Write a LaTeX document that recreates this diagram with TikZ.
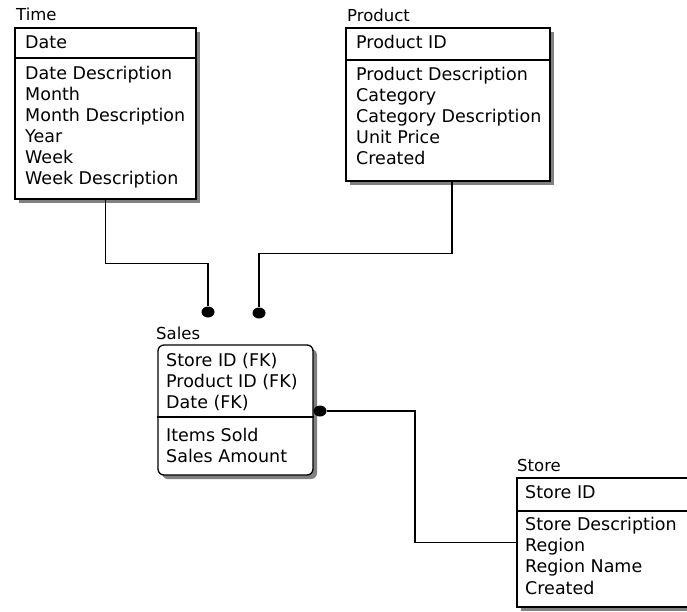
\documentclass[tikz,border=0pt]{standalone}
\usepackage{fontspec}
\setmainfont{DejaVu Sans}
\usetikzlibrary{shapes.geometric,calc}
\begin{document}
\begin{tikzpicture}[x=1pt,y=-1pt,
  ent/.style={draw=black, line width=1.3pt, fill=white, inner sep=0pt},
  shad/.style={fill=black!50, draw=none, inner sep=0pt},
  fld/.style={anchor=west, inner sep=0pt, text height=12pt, text depth=3pt, font=\fontsize{17.5}{20}\selectfont},
  ttl/.style={anchor=west, inner sep=0pt, text height=12pt, text depth=3pt, font=\fontsize{16.5}{20}\selectfont},
  conn/.style={line width=1.3pt},
  fkdot/.style={ellipse, fill=black, inner sep=0pt, minimum width=13pt, minimum height=11pt}]
\useasboundingbox (0,0) rectangle (687,611);
\clip (0,0) rectangle (687,611);
\fill[white] (0,0) rectangle (687,611);

% ---- Time
\node[shad, minimum width=181pt, minimum height=171pt] (timeS) at (109.5,117.5) {};
\node[ent, minimum width=181pt, minimum height=171pt] (time) at (105.5,113.5) {};
\draw[line width=1.3pt] (time.west |- 0,58) -- (time.east |- 0,58);
\node[ttl] (timeT) at (16,16) {Time};
\node[fld] (t0) at (25,44) {Date};
\node[fld] (t1) at (25,75) {Date Description};
\node[fld] (t2) at (25,96) {Month};
\node[fld] (t3) at (25,117) {Month Description};
\node[fld] (t4) at (25,138) {Year};
\node[fld] (t5) at (25,159) {Week};
\node[fld] (t6) at (25,180) {Week Description};

% ---- Product
\node[shad, minimum width=204pt, minimum height=153pt] (prodS) at (452,108.5) {};
\node[ent, minimum width=204pt, minimum height=153pt] (prod) at (448,104.5) {};
\draw[line width=1.3pt] (prod.west |- 0,60) -- (prod.east |- 0,60);
\node[ttl] (prodT) at (347,17) {Product};
\node[fld] (p0) at (356,44) {Product ID};
\node[fld] (p1) at (356,76) {Product Description};
\node[fld] (p2) at (356,97) {Category};
\node[fld] (p3) at (356,118) {Category Description};
\node[fld] (p4) at (356,139) {Unit Price};
\node[fld] (p5) at (356,160) {Created};

% ---- Sales
\node[shad, rounded corners=6pt, minimum width=155pt, minimum height=130pt] (salesS) at (239.5,414) {};
\node[ent, rounded corners=6pt, minimum width=155pt, minimum height=130pt] (sales) at (235.5,410) {};
\draw[line width=1.3pt] (sales.west |- 0,417) -- (sales.east |- 0,417);
\node[ttl] (salesT) at (156,335) {Sales};
\node[fld] (s0) at (166,362) {Store ID (FK)};
\node[fld] (s1) at (166,383) {Product ID (FK)};
\node[fld] (s2) at (166,404) {Date (FK)};
\node[fld] (s3) at (166,437) {Items Sold};
\node[fld] (s4) at (166,458) {Sales Amount};

% ---- Store
\node[shad, minimum width=183pt, minimum height=129pt] (storeS) at (612.5,546.5) {};
\node[ent, minimum width=183pt, minimum height=129pt] (store) at (608.5,542.5) {};
\draw[line width=1.3pt] (store.west |- 0,511) -- (store.east |- 0,511);
\node[ttl] (storeT) at (517,467) {Store};
\node[fld] (r0) at (525,494) {Store ID};
\node[fld] (r1) at (525,526) {Store Description};
\node[fld] (r2) at (525,547) {Region};
\node[fld] (r3) at (525,568) {Region Name};
\node[fld] (r4) at (525,590) {Created};

% ---- connectors
\node[fkdot] (d1) at (208,312) {};
\node[fkdot] (d2) at (259,313) {};
\node[fkdot] (d3) at (320,411) {};
\coordinate (pOut) at ($(prod.south)+(4,0)$);
\coordinate (sBend) at (415,411);
\draw[conn] (time.south) -- ++(0,64) -| (d1);
\draw[conn] (pOut) -- ++(0,72) -| (d2);
\draw[conn] (d3) -- (sBend) |- (store.west);
\end{tikzpicture}
\end{document}
